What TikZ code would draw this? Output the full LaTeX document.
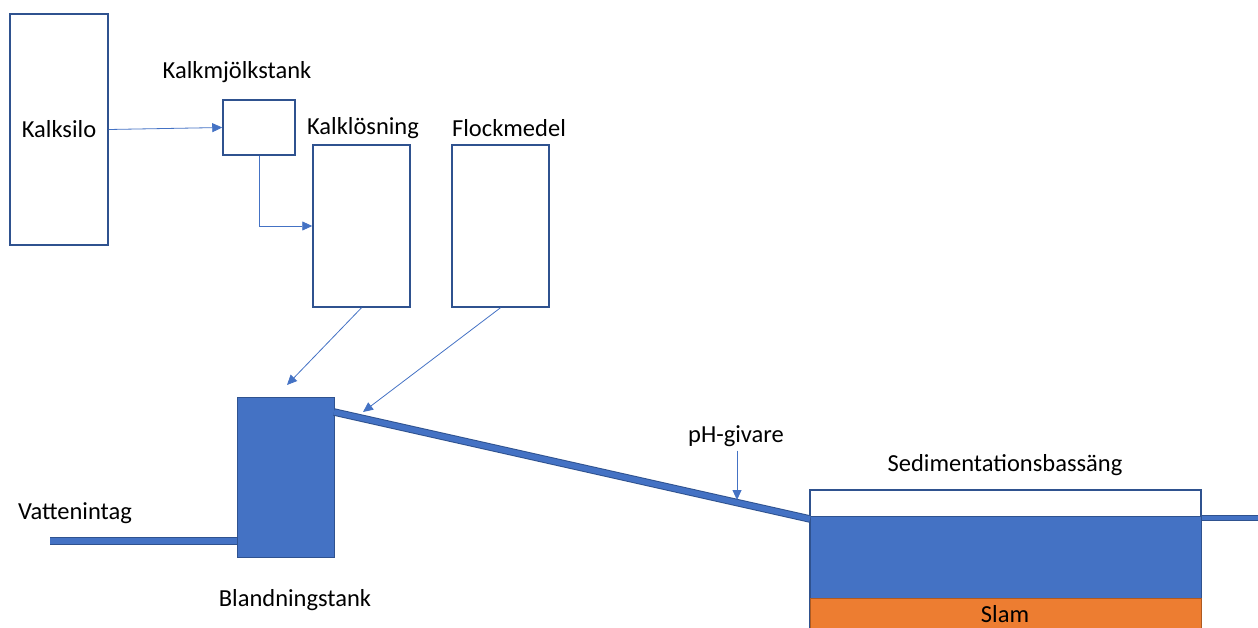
\documentclass[tikz,border=0pt]{standalone}
\usepackage{fontspec}
\setmainfont{Carlito}
\usetikzlibrary{positioning,arrows.meta}
\definecolor{tankblue}{HTML}{4472C4}
\definecolor{tankedge}{HTML}{2F528F}
\definecolor{slamorange}{HTML}{ED7D31}
\definecolor{slamedge}{HTML}{AE5A21}
\tikzset{
  box/.style={draw=tankedge, line width=1.5pt, fill=white},
  filled/.style={draw=tankedge, line width=1pt, fill=tankblue},
  feed/.style={-{Triangle[length=10pt,width=9pt]}, draw=tankblue, line width=0.8pt},
  pipe/.style={draw=tankedge, line width=1pt, double=tankblue, double distance=5.5pt},
  txt/.style={font=\fontsize{24.5}{29}\selectfont, inner sep=0pt},
}

\begin{document}
\begin{tikzpicture}[x=1pt,y=-1pt]
\useasboundingbox (0,0) rectangle (1258,628);

% Kalk
\node[box, txt, minimum width=98pt, minimum height=231pt] (silo) at (59,129.5) {Kalksilo};
\node[box, minimum width=72pt, minimum height=55pt] (milk) at (259,127.5) {};
\node[txt] (milklabel) at (237,72) {Kalkmjölkstank};

% Doseringstankar
\node[box, minimum width=97pt, minimum height=162pt] (lime) at (361.5,226) {};
\node[txt] (limelabel) at (363,128) {Kalklösning};
\node[box, minimum width=97pt, minimum height=162pt] (floc) at (500.5,226) {};
\node[txt] (floclabel) at (509,128) {Flockmedel};

% Blandningstank
\node[filled, minimum width=97pt, minimum height=160pt] (mix) at (285.5,477) {};
\node[txt] (mixlabel) at (295,600) {Blandningstank};

% Sedimentationsbassäng
\draw[box] (810,490) rectangle (1201,660);
\node[filled, minimum width=391pt, minimum height=82pt] (water) at (1005.5,557) {};
\draw[draw=slamedge, line width=1pt, fill=slamorange] (810,598) rectangle (1201,660);
\node[txt] (slam) at (1005,614) {Slam};
\node[txt] (sedlabel) at (1005,465) {Sedimentationsbassäng};

% Rör
\coordinate (intake) at (50,541);
\coordinate (mixout) at (334,412);
\coordinate (inlet) at (810,519);
\coordinate (outlet) at (1258,518);
\draw[pipe] (intake) -- (intake -| mix.west);
\draw[pipe] (mixout) -- (inlet);
\draw[pipe, double distance=4pt] (outlet -| water.east) -- (outlet);
\node[txt] (intakelabel) at (75,513) {Vattenintag};

% Givare
\node[txt] (phlabel) at (736,436) {pH-givare};
\coordinate (phpoint) at (737,500);
\draw[feed] (phlabel.south -| phpoint) ++(0,4) -- (phpoint);

% Flöden
\coordinate (mixfeed) at (287,385);
\coordinate (dosing) at (363,412);
\draw[feed] (silo.east) -- (milk.west);
\draw[feed] (milk.south) |- (lime.west);
\draw[feed] (lime.south) -- (mixfeed);
\draw[feed] (floc.south) -- (dosing);

\end{tikzpicture}
\end{document}
